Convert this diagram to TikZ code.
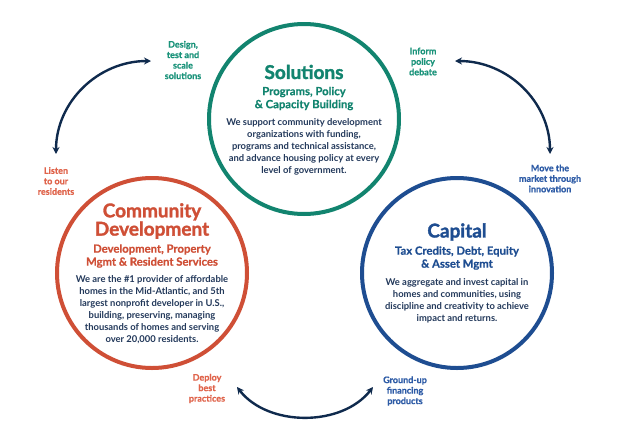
\documentclass[tikz,border=0pt]{standalone}
\usepackage{fontspec}
\setmainfont{Lato}
\newfontfamily\heavy{Lato}[BoldFeatures={FakeBold=1.6}]
\newfontfamily\semi{Lato}[BoldFeatures={FakeBold=0.6}]
\usetikzlibrary{arrows.meta}
\definecolor{cgreen}{HTML}{12846F}
\definecolor{corange}{HTML}{CF4F36}
\definecolor{cblue}{HTML}{1E4D91}
\definecolor{cnavy}{HTML}{23395B}
\definecolor{carrow}{HTML}{0F2A4D}
\definecolor{lorange}{HTML}{E0634A}
\definecolor{lblue}{HTML}{2D5BA6}
\definecolor{lgreen}{HTML}{1A937A}
\tikzset{
  ring/.style={circle, draw=#1, line width=4pt, inner sep=0pt, minimum size=190pt},
  ttl/.style={font=\heavy\fontsize{19}{16.5}\selectfont\bfseries, text=#1, align=center, inner sep=0pt},
  sub/.style={font=\semi\fontsize{11.3}{13}\selectfont\bfseries, text=#1, align=center, inner sep=0pt},
  body/.style={font=\fontsize{9.4}{12}\selectfont\bfseries, text=cnavy, align=center, inner sep=0pt},
  lbl/.style={font=\semi\fontsize{9}{10.5}\selectfont\bfseries, text=#1, align=center, inner sep=0pt},
  cyc/.style={draw=carrow, line width=2.4pt, {Stealth[length=7pt,width=7pt]}-{Stealth[length=7pt,width=7pt]}}
}
\begin{document}
\begin{tikzpicture}[x=1pt,y=-1pt]
\useasboundingbox[fill=white] (0,0) rectangle (640,445);
% rings
\node[ring=cgreen] (sol) at (304,119) {};
\node[ring=corange] (com) at (152,273) {};
\node[ring=cblue] (cap) at (457,273) {};
% Solutions
\node[ttl=cgreen] (solt) at (304,72) {Solutions};
\node[sub=cgreen] (sols) at (304,98.5) {Programs, Policy\\\& Capacity Building};
\node[body] (solb) at (304,147) {We support community development\\organizations with funding,\\programs and technical assistance,\\and advance housing policy at every\\level of government.};
% Community Development
\node[ttl=corange] (comt) at (152,221) {Community\\Development};
\node[sub=corange] (coms) at (152,256) {Development, Property\\Mgmt \& Resident Services};
\node[body] (comb) at (152,310) {We are the \#1 provider of affordable\\homes in the Mid-Atlantic, and 5th\\largest nonprofit developer in U.S.,\\building, preserving, managing\\thousands of homes and serving\\over 20,000 residents.};
% Capital
\node[ttl=cblue] (capt) at (457,232) {Capital};
\node[sub=cblue] (caps) at (457,258) {Tax Credits, Debt, Equity\\\& Asset Mgmt};
\node[body] (capb) at (457,301) {We aggregate and invest capital in\\homes and communities, using\\discipline and creativity to achieve\\impact and returns.};
% labels
\node[lbl=lgreen] (l1) at (183,60) {Design,\\test and\\scale\\solutions};
\node[lbl=lorange] (l2) at (56,181) {Listen\\to our\\residents};
\node[lbl=lgreen] (l3) at (423,61.5) {Inform\\policy\\debate};
\node[lbl=lblue] (l4) at (550,178.5) {Move the\\market through\\innovation};
\node[lbl=lorange] (l5) at (207,388.5) {Deploy\\best\\practices};
\node[lbl=lblue] (l6) at (405,391) {Ground-up\\financing\\products};
% cycle arrows
\coordinate (a1) at (56,154);
\coordinate (a2) at (151,61);
\coordinate (b1) at (455,61);
\coordinate (b2) at (550,154);
\coordinate (c1) at (237,387);
\coordinate (c2) at (373,387);
\draw[cyc] (a1) .. controls (56,102) and (98,61) .. (a2);
\draw[cyc] (b1) .. controls (508,61) and (550,102) .. (b2);
\draw[cyc] (c1) .. controls (268,427) and (342,427) .. (c2);
\end{tikzpicture}
\end{document}
